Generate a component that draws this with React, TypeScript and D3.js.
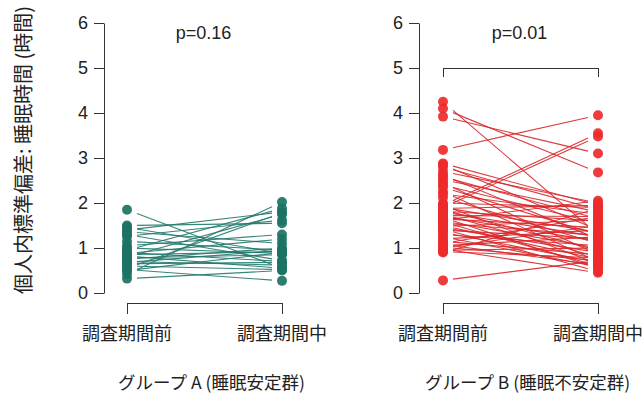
import { useRef, useEffect } from 'react';
import * as d3 from 'd3';

// categories
const periods = ['調査期間前', '調査期間中'];
const yTicks = [0, 1, 2, 3, 4, 5, 6];

// group A (睡眠安定群): before / after pairs
const groupABefore = [1.85, 1.50, 1.46, 1.40, 1.36, 1.30, 1.26, 1.15, 1.05, 1.00, 0.95, 0.90, 0.88, 0.85, 0.82, 0.80, 0.78, 0.75, 0.70, 0.68, 0.65, 0.60, 0.55, 0.50, 0.42, 0.52, 0.32];
const groupAAfter = [0.55, 1.55, 0.88, 1.80, 1.10, 0.72, 1.62, 0.95, 1.30, 0.88, 1.88, 0.70, 1.20, 0.92, 0.55, 1.75, 0.85, 1.00, 0.62, 0.95, 0.68, 0.52, 1.78, 0.90, 2.02, 0.27, 0.50];

// group B (睡眠不安定群): before / after pairs
const groupBBefore = [4.25, 4.10, 3.92, 3.18, 2.88, 2.85, 2.80, 2.70, 2.62, 2.58, 2.52, 2.45, 2.40, 2.35, 2.25, 2.20, 2.12, 1.95, 2.00, 1.95, 1.90, 1.90, 1.88, 1.85, 1.82, 1.80, 1.75, 1.72, 1.70, 1.68, 1.65, 1.62, 1.60, 1.58, 1.55, 1.50, 1.48, 1.45, 1.42, 1.40, 1.35, 1.30, 1.25, 1.20, 1.15, 1.10, 1.08, 1.05, 1.02, 1.00, 0.98, 0.95, 0.92, 0.90, 0.28];
const groupBAfter = [1.30, 2.68, 3.10, 3.95, 1.95, 1.40, 1.85, 2.00, 1.20, 1.65, 1.80, 0.85, 1.55, 1.30, 0.70, 1.75, 1.10, 3.55, 1.90, 0.65, 3.48, 1.35, 1.95, 0.95, 1.60, 1.25, 0.80, 1.70, 1.15, 0.55, 1.45, 2.05, 1.00, 0.60, 1.28, 0.75, 1.62, 0.90, 0.48, 1.20, 0.68, 1.05, 0.58, 1.40, 0.85, 1.70, 0.62, 1.25, 0.72, 1.50, 0.45, 1.00, 0.78, 1.88, 0.72];

const pValues = ['p=0.16', 'p=0.01'];
const groupLabels = ['グループ A (睡眠安定群)', 'グループ B (睡眠不安定群)'];
const yTitle = '個人内標準偏差: 睡眠時間 (時間)';

const FONT = '"Liberation Sans", Arial, "Noto Sans CJK JP", sans-serif';
const JP = '"Noto Sans CJK JP", "Liberation Sans", sans-serif';

export default function App() {
  const ref = useRef<SVGSVGElement>(null);

  useEffect(() => {
    if (!ref.current) return;
    document.body.style.margin = '0';
    const svg = d3.select(ref.current);
    svg.selectAll('*').remove();

    const y = d3.scaleLinear().domain([0, 6]).range([293, 23]);

    const panels = [
      { axisX: 104, range: [127, 282], before: groupABefore, after: groupAAfter, dot: '#1c7364', line: '#22786b', p: pValues[0], label: groupLabels[0], bracket: false },
      { axisX: 419, range: [443, 598], before: groupBBefore, after: groupBAfter, dot: '#ee2a2a', line: '#d8262a', p: pValues[1], label: groupLabels[1], bracket: true },
    ];

    panels.forEach(pn => {
      const x = d3.scalePoint<string>().domain(periods).range(pn.range as [number, number]).padding(0);
      const g = svg.append('g');

      // y axis
      const ya = g.append('g')
        .attr('transform', `translate(${pn.axisX},0)`)
        .call(d3.axisLeft(y).tickValues(yTicks).tickSize(10).tickSizeOuter(0).tickPadding(6).tickFormat(d3.format('d')));
      ya.selectAll('path, line').attr('stroke', '#333');
      ya.selectAll('text').attr('font-size', 18).attr('font-family', FONT).attr('fill', '#222');

      // bottom bracket axis
      const xa = g.append('g')
        .attr('transform', 'translate(0,303)')
        .call(d3.axisBottom(x).tickSize(11).tickSizeOuter(0).tickFormat(() => ''));
      xa.selectAll('path, line').attr('stroke', '#333');

      // significance bracket
      if (pn.bracket) {
        const ta = g.append('g')
          .attr('transform', `translate(0,${y(5)})`)
          .call(d3.axisBottom(x).tickSize(9).tickSizeOuter(0).tickFormat(() => ''));
        ta.selectAll('path, line').attr('stroke', '#333');
      }

      // paired lines, inset from the dots
      const x0 = x(periods[0])!;
      const x1 = x(periods[1])!;
      const inset = 10;
      const t = inset / (x1 - x0);
      const pairs = pn.before.map((b, i) => ({ b, a: pn.after[i] }));
      g.append('g').selectAll('line')
        .data(pairs)
        .enter()
        .append('line')
        .attr('x1', x0 + inset)
        .attr('x2', x1 - inset)
        .attr('y1', d => y(d3.interpolateNumber(d.b, d.a)(t)))
        .attr('y2', d => y(d3.interpolateNumber(d.b, d.a)(1 - t)))
        .attr('stroke', pn.line)
        .attr('stroke-opacity', 0.9)
        .attr('stroke-width', 1.1);

      // dots
      const dots = g.append('g');
      [pn.before, pn.after].forEach((vals, k) => {
        dots.selectAll(null)
          .data(vals)
          .enter()
          .append('circle')
          .attr('cx', x(periods[k])!)
          .attr('cy', d => y(d))
          .attr('r', 5)
          .attr('fill', pn.dot)
          .attr('fill-opacity', 0.92);
      });

      // category labels
      g.selectAll(null)
        .data(periods)
        .enter()
        .append('text')
        .attr('x', d => x(d)!)
        .attr('y', 340)
        .attr('text-anchor', 'middle')
        .attr('font-size', 18)
        .attr('font-family', JP)
        .attr('fill', '#222')
        .text(d => d);

      // p value
      g.append('text')
        .attr('x', (x0 + x1) / 2 - 1)
        .attr('y', 39)
        .attr('text-anchor', 'middle')
        .attr('font-size', 18)
        .attr('font-family', FONT)
        .attr('fill', '#222')
        .text(pn.p);

      // group label
      g.append('text')
        .attr('x', (x0 + x1) / 2 + 7)
        .attr('y', 389)
        .attr('text-anchor', 'middle')
        .attr('font-size', 17.5)
        .attr('font-family', JP)
        .attr('fill', '#222')
        .text(pn.label);
    });

    // y axis title
    svg.append('text')
      .attr('transform', 'translate(31,150) rotate(-90)')
      .attr('text-anchor', 'middle')
      .attr('font-size', 20)
      .attr('font-family', JP)
      .attr('fill', '#222')
      .text(yTitle);
  }, []);

  return <svg ref={ref} width={644} height={393} style={{ display: 'block', background: '#fff' }} />;
}
